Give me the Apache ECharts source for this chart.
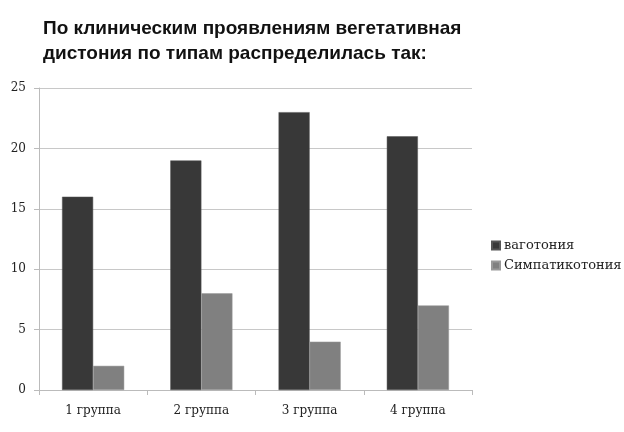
<!DOCTYPE html>
<html><head><meta charset="utf-8">
<script src="https://cdn.jsdelivr.net/npm/echarts@6/dist/echarts.min.js"></script>
<style>html,body{margin:0;padding:0;background:#fff}#c{width:624px;height:432px}</style>
</head><body><div id="c"></div>
<script>
const categories = ['1 группа', '2 группа', '3 группа', '4 группа'];
const vagotonia = [16, 19, 23, 21];
const simpatikotonia = [2, 8, 4, 7];
const seriesNames = ['ваготония', 'Симпатикотония'];
const titleText = 'По клиническим проявлениям вегетативная\nдистония по типам распределилась так:';

const chart = echarts.init(document.getElementById('c'));
chart.setOption({
  animation: false,
  title: {
    text: titleText, left: 38, top: 11,
    textStyle: { fontFamily: 'Liberation Sans', fontWeight: 'bold', fontSize: 19, lineHeight: 25, color: '#111' }
  },
  legend: {
    orient: 'vertical', left: 486, top: 234, itemWidth: 8, itemHeight: 8, itemGap: 7, icon: 'rect',
    textStyle: { fontFamily: 'DejaVu Serif', fontSize: 13, color: '#222', padding: [0, 0, 0, -1] },
    data: seriesNames
  },
  grid: { left: 39, right: 152, top: 88, bottom: 42, containLabel: false },
  xAxis: {
    type: 'category', data: categories,
    axisLine: { lineStyle: { color: '#bbb' } },
    axisTick: { show: true, length: 5, lineStyle: { color: '#bbb' } },
    axisLabel: { fontFamily: 'DejaVu Serif', fontSize: 12, color: '#222', margin: 15 }
  },
  yAxis: {
    type: 'value', min: 0, max: 25, interval: 5,
    axisLine: { show: true, lineStyle: { color: '#bbb' } },
    axisTick: { show: true, length: 5, lineStyle: { color: '#bbb' } },
    splitLine: { lineStyle: { color: '#c8c8c8' } },
    axisLabel: { fontFamily: 'DejaVu Serif', fontSize: 12, color: '#222', margin: 13 }
  },
  series: [
    { name: seriesNames[0], type: 'bar', data: vagotonia, barGap: '0%', barCategoryGap: '42.6%',
      itemStyle: { color: '#383838', borderColor: '#555', borderWidth: 0.5 } },
    { name: seriesNames[1], type: 'bar', data: simpatikotonia, barGap: '0%', barCategoryGap: '42.6%',
      itemStyle: { color: '#808080', borderColor: '#999', borderWidth: 0.5 } }
  ]
});
</script></body></html>
